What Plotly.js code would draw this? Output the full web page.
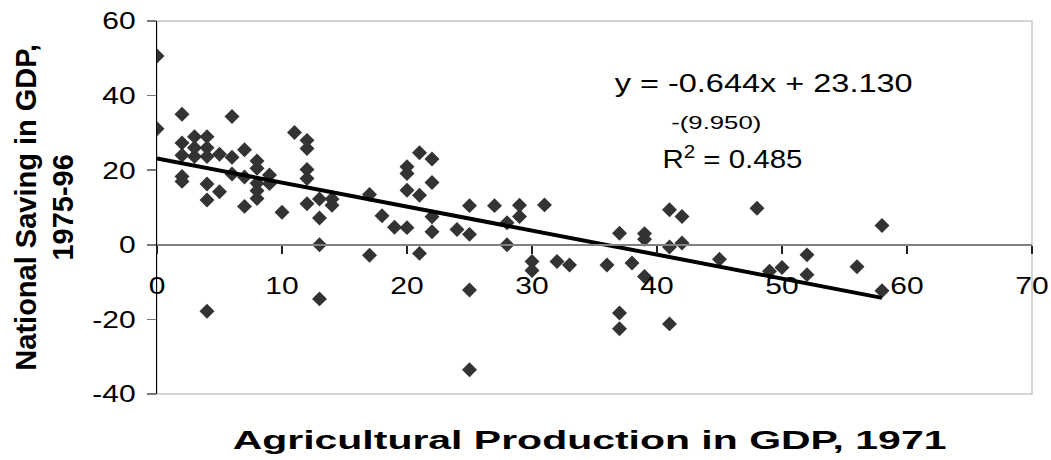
<!DOCTYPE html>
<html>
<head>
<meta charset="utf-8">
<script src="https://cdn.plot.ly/plotly-3.0.1.min.js"></script>
<style>html,body{margin:0;padding:0;background:#fff;}#chart{width:1051px;height:460px;}</style>
</head>
<body>
<div id="chart"></div>
<script>
// Agricultural production share of GDP, 1971 (x)
const agricultureShare = [
  0, 0, 2, 6, 11, 12, 12, 2, 3, 4,
  3, 4, 2, 3, 4, 5, 7, 6, 8, 6,
  7, 8, 9, 9, 8, 8, 8, 7, 2, 2,
  4, 5, 4, 10, 12, 12, 12, 13, 14, 14,
  13, 13, 13, 4, 17, 18, 19, 20, 17, 21,
  22, 20, 20, 20, 21, 22, 22, 22, 21, 24,
  25, 25, 27, 28, 28, 29, 29, 31, 30, 30,
  32, 33, 36, 37, 38, 39, 39, 39, 41, 41,
  42, 42, 37, 37, 41, 45, 48, 49, 50, 52,
  52, 56, 58, 58, 25, 25
];
// National saving share of GDP, 1975-96 (y)
const nationalSaving = [
  50.6, 31.1, 35.0, 34.4, 30.1, 28.0, 25.8, 27.3, 29.0, 29.0,
  26.0, 26.0, 24.0, 23.7, 23.7, 24.3, 25.5, 23.5, 22.5, 19.0,
  18.2, 20.5, 18.7, 16.4, 16.5, 14.5, 12.4, 10.3, 18.3, 17.0,
  16.3, 14.2, 12.0, 8.7, 20.2, 17.8, 11.0, 12.3, 12.3, 10.6,
  7.2, 0.0, -14.5, -17.8, 13.5, 7.8, 4.7, 4.6, -2.8, 24.7,
  23.0, 20.9, 19.1, 14.6, 13.3, 16.7, 7.5, 3.5, -2.3, 4.1,
  2.8, 10.5, 10.5, 5.9, 0.0, 10.6, 7.6, 10.7, -4.5, -6.9,
  -4.5, -5.4, -5.4, 3.1, -4.9, 3.0, 1.5, -8.5, 9.4, -0.6,
  7.6, 0.5, -18.3, -22.5, -21.2, -3.9, 9.8, -7.1, -6.1, -2.7,
  -8.0, -5.9, 5.2, -12.3, -12.1, -33.5
];
// Fitted trend line: y = slope*x + intercept, drawn over the data range
const trendSlope = -0.644;
const trendIntercept = 23.130;
const trendXRange = [0, 58];
const xTicks = [0, 10, 20, 30, 40, 50, 60, 70];
const yTicks = [-40, -20, 0, 20, 40, 60];
const eqText = 'y = -0.644x + 23.130';
const seText = '-(9.950)';
const r2Text = 'R<sup>2</sup> = 0.485';
const xTitle = 'Agricultural Production in GDP, 1971';
const yTitle = 'National Saving in GDP,<br>1975-96';

const FONT = 'Liberation Sans, Arial, Helvetica, sans-serif';
const trendY = trendXRange.map(x => trendSlope * x + trendIntercept);

const data = [
  {
    type: 'scatter', mode: 'markers',
    x: agricultureShare, y: nationalSaving,
    marker: {symbol: 'diamond', size: 11.5, color: '#333333', line: {width: 0}},
    hoverinfo: 'x+y'
  },
  {
    type: 'scatter', mode: 'lines',
    x: trendXRange, y: trendY,
    line: {color: '#000000', width: 4},
    hoverinfo: 'skip'
  }
];

const layout = {
  width: 1051, height: 460,
  margin: {l: 157, r: 19, t: 21, b: 66, pad: 0},
  paper_bgcolor: '#ffffff', plot_bgcolor: '#ffffff',
  showlegend: false,
  font: {family: FONT, color: '#000000', size: 24},
  xaxis: {
    range: [0, 70], tickvals: xTicks, ticktext: xTicks.map(String),
    anchor: 'free', position: 0.4,
    showline: true, linecolor: '#808080', linewidth: 2,
    ticks: 'outside', ticklen: 8, tickwidth: 1.5, tickcolor: '#222222',
    ticklabelstandoff: 11,
    showgrid: false, zeroline: false,
    tickfont: {family: FONT, size: 24, color: '#000000'}
  },
  yaxis: {
    range: [-40, 60], tickvals: yTicks, ticktext: yTicks.map(String),
    showline: true, linecolor: '#000000', linewidth: 1.5,
    ticks: 'outside', ticklen: 9, tickwidth: 1.5, tickcolor: '#777777',
    ticklabelstandoff: 6,
    showgrid: false, zeroline: false,
    tickfont: {family: FONT, size: 24, color: '#000000'}
  },
  shapes: [
    {type: 'rect', xref: 'paper', yref: 'paper', x0: 0, x1: 1, y0: 0, y1: 1,
     line: {color: '#c8c8c8', width: 1.5}, layer: 'below'}
  ],
  annotations: [
    {text: eqText, xref: 'paper', yref: 'paper', x: 0.6926, y: 0.834,
     xanchor: 'center', yanchor: 'middle', showarrow: false,
     font: {family: FONT, size: 25, color: '#000'}},
    {text: seText, xref: 'paper', yref: 'paper', x: 0.639, y: 0.729,
     xanchor: 'center', yanchor: 'middle', showarrow: false,
     font: {family: FONT, size: 19, color: '#000'}},
    {text: r2Text, xref: 'paper', yref: 'paper', x: 0.658, y: 0.633,
     xanchor: 'center', yanchor: 'middle', showarrow: false,
     font: {family: FONT, size: 25, color: '#000'}},
    {text: '<b>' + xTitle + '</b>', xref: 'paper', yref: 'paper', x: 0.494, y: -0.123,
     xanchor: 'center', yanchor: 'middle', showarrow: false,
     font: {family: FONT, size: 26, color: '#000'}},
    {text: '<b>' + yTitle + '</b>', xref: 'paper', yref: 'paper', x: -0.129, y: 0.5,
     xanchor: 'center', yanchor: 'middle', showarrow: false, textangle: -90,
     font: {family: FONT, size: 29, color: '#000'}}
  ]
};

// horizontal widening of the horizontal texts, as in the reference typography
function stretchText(el, sx, pivot) {
  if (!el) return;
  const b = el.getBBox();
  if (!b.width) return;
  const px = pivot === 'right' ? b.x + b.width : (pivot === 'left' ? b.x : b.x + b.width / 2);
  const t = el.getAttribute('transform') || '';
  el.setAttribute('transform', t + ' translate(' + px + ',0) scale(' + sx + ',1) translate(' + (-px) + ',0)');
}
function stretchToWidth(el, target) {
  if (!el) return;
  const b = el.getBBox();
  if (!b.width) return;
  stretchText(el, target / b.width, 'center');
}

Plotly.newPlot('chart', data, layout, {displayModeBar: false, staticPlot: true}).then(function (gd) {
  gd.querySelectorAll('.xtick text').forEach(function (el) { stretchText(el, 1.25, 'center'); });
  gd.querySelectorAll('.ytick text').forEach(function (el) { stretchText(el, 1.25, 'right'); });
  const ann = function (i) { return gd.querySelector('.annotation[data-index="' + i + '"] text.annotation-text'); };
  stretchToWidth(ann(0), 298);
  stretchToWidth(ann(1), 90);
  stretchToWidth(ann(2), 140);
  stretchToWidth(ann(3), 714);
});
</script>
</body>
</html>
